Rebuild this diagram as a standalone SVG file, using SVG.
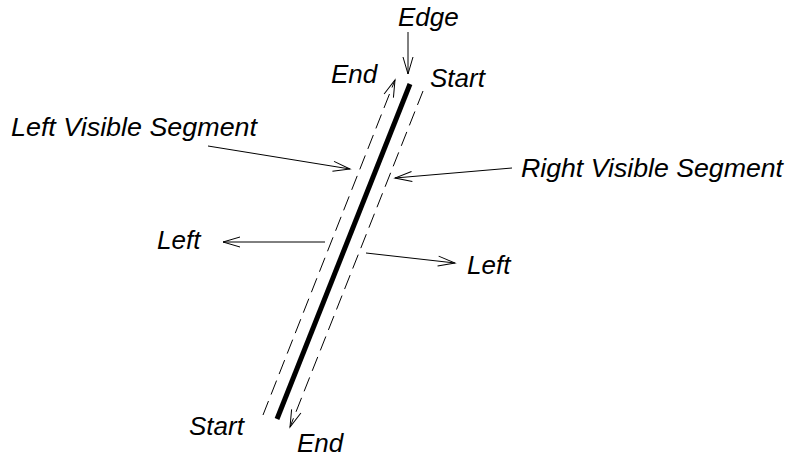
<svg xmlns="http://www.w3.org/2000/svg" width="788" height="458" viewBox="0 0 788 458">
<style>
text{font-family:"Liberation Sans",Arial,sans-serif;font-style:italic;font-size:26px;fill:#000}
.thin{stroke:#000;stroke-width:1;fill:none}
.dash{stroke:#000;stroke-width:1;fill:none;stroke-dasharray:15 7}
.edge{stroke:#000;stroke-width:5;fill:none}
</style>
<defs>
<marker id="arr" markerUnits="userSpaceOnUse" markerWidth="24" markerHeight="16" viewBox="-20 -8 24 16" refX="0" refY="0" orient="auto">
<path d="M-17,-5 L0,0 L-17,5" fill="none" stroke="#000" stroke-width="1"/>
</marker>
</defs>
<rect width="788" height="458" fill="#fff"/>
<g id="edge-node">
<line class="edge" x1="410" y1="84" x2="277" y2="419"/>
</g>
<g id="connectors">
<line class="dash" x1="263" y1="415" x2="395" y2="80" marker-end="url(#arr)"/>
<line class="dash" x1="423" y1="91" x2="290" y2="427" marker-end="url(#arr)"/>
<line class="thin" x1="408" y1="32" x2="408" y2="74" marker-end="url(#arr)"/>
<line class="thin" x1="208" y1="146" x2="350" y2="169" marker-end="url(#arr)"/>
<line class="thin" x1="512" y1="168" x2="395" y2="178" marker-end="url(#arr)"/>
<line class="thin" x1="325" y1="242" x2="223" y2="242" marker-end="url(#arr)"/>
<line class="thin" x1="366" y1="253" x2="455" y2="263" marker-end="url(#arr)"/>
</g>
<g id="labels">
<text id="t-edge" x="398" y="26">Edge</text>
<text id="t-end-top" x="331" y="83">End</text>
<text id="t-start-top" x="430" y="87">Start</text>
<text id="t-lvs" x="11" y="136" textLength="246" lengthAdjust="spacingAndGlyphs">Left Visible Segment</text>
<text id="t-rvs" x="521" y="177" textLength="262" lengthAdjust="spacingAndGlyphs">Right Visible Segment</text>
<text id="t-left1" x="157" y="249">Left</text>
<text id="t-left2" x="467" y="274">Left</text>
<text id="t-start-bot" x="189" y="435">Start</text>
<text id="t-end-bot" x="297" y="452">End</text>
</g>
</svg>
